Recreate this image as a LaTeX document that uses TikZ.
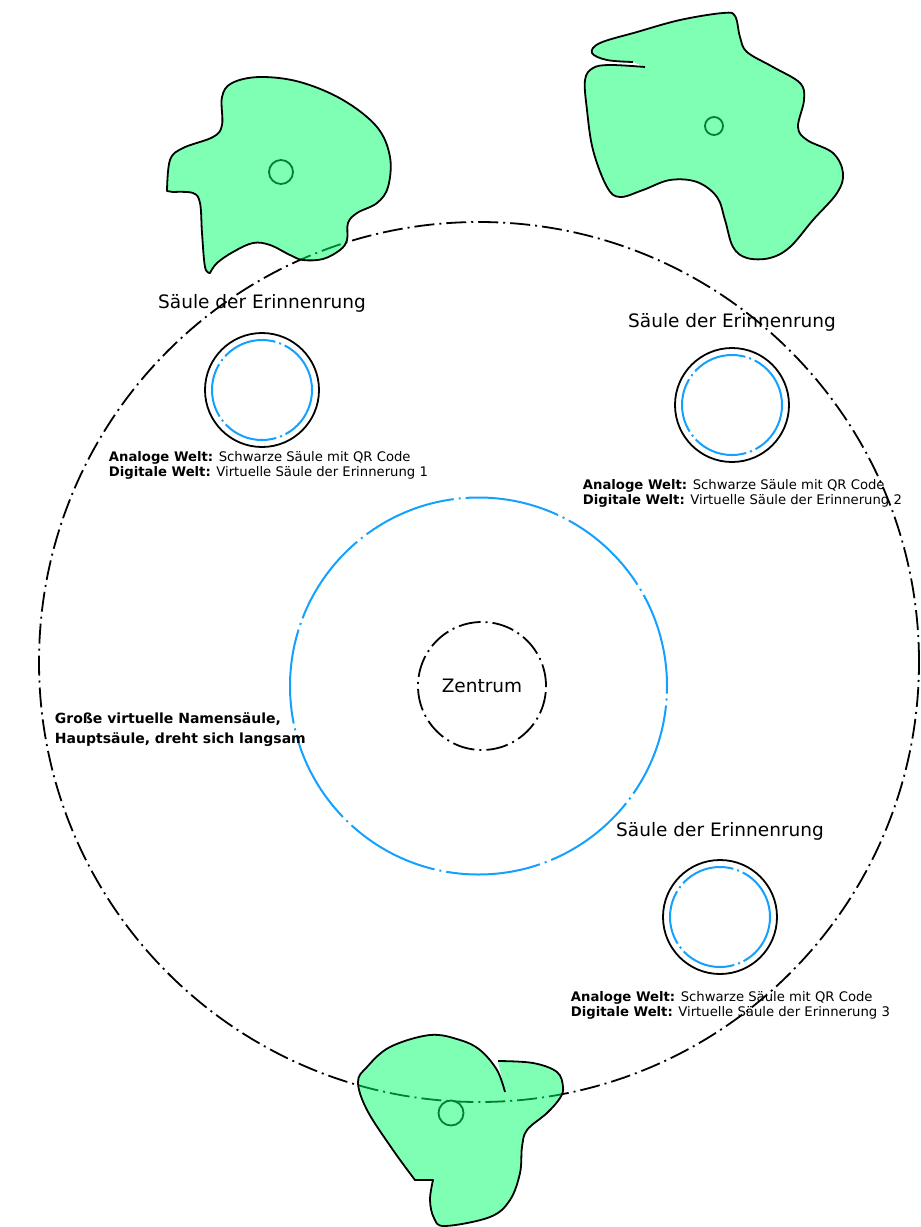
\documentclass[tikz,border=0pt]{standalone}
\usepackage{fontspec}
\setmainfont{DejaVu Sans}
\usetikzlibrary{positioning, calc}

\definecolor{saeulenblau}{RGB}{20,160,255}
\definecolor{inselgruen}{RGB}{0,255,104}

\tikzset{
  ring/.style = {draw, circle, inner sep=0pt, dash pattern=on 20pt off 5pt on 2pt off 5pt},
  blauring/.style = {draw=saeulenblau, circle, inner sep=0pt, line width=2pt},
  saeule/.style = {draw, circle, inner sep=0pt, minimum size=114pt},
  insel/.style = {draw, fill=inselgruen, fill opacity=0.5, line join=round},
  titel/.style = {font=\fontsize{18.5}{22}\selectfont},
  info/.style = {font=\fontsize{13.2}{15}\selectfont, align=left, anchor=west, inner sep=0pt}
}

\begin{document}
\begin{tikzpicture} [x=1pt, y=-1pt, line width=1.8pt, node distance=86pt]

\useasboundingbox (0,0) rectangle (921,1227);

% Mittelpunkte der Inseln
\node [draw, circle, inner sep=0pt, minimum size=24pt] (m1) at (281,172) {};
\node [draw, circle, inner sep=0pt, minimum size=18pt] (m2) at (714,126) {};
\node [draw, circle, inner sep=0pt, minimum size=25pt] (m3) at (451,1113) {};

% Kreise
\node [ring, minimum size=880pt] (welt) at (479,662) {};
\node [blauring, minimum size=377pt, dash pattern=on 95pt off 5pt on 2pt off 5pt] (rund) at (478.5,686) {};
\node [ring, minimum size=128pt, titel, dash pattern=on 22pt off 5pt on 2pt off 5pt] (zentrum) at (482,686) {Zentrum};

% Saeulen der Erinnerung
\node [saeule] (s1) at (262,390) {};
\node [saeule] (s2) at (732,405) {};
\node [saeule] (s3) at (720,917) {};
\foreach \s in {s1, s2, s3}
  \node [blauring, minimum size=100pt, dash pattern=on 55pt off 4pt on 2pt off 4pt] (\s b) at (\s) {};

\node [titel, above of = s1, node distance=87pt] (t1) {Säule der Erinnenrung};
\node [titel, above of = s2, node distance=83pt] (t2) {Säule der Erinnenrung};
\node [titel, above of = s3] (t3) {Säule der Erinnenrung};

\node [info] (i1) at (108,465.5) {\textbf{Analoge Welt:} Schwarze Säule mit QR Code\\\textbf{Digitale Welt:} Virtuelle Säule der Erinnerung 1};
\node [info] (i2) at (582,493) {\textbf{Analoge Welt:} Schwarze Säule mit QR Code\\\textbf{Digitale Welt:} Virtuelle Säule der Erinnerung 2};
\node [info] (i3) at (570,1005) {\textbf{Analoge Welt:} Schwarze Säule mit QR Code\\\textbf{Digitale Welt:} Virtuelle Säule der Erinnerung 3};

\node [info, font=\fontsize{14}{20}\selectfont\bfseries] (haupt) at (54,730) {Große virtuelle Namensäule,\\Hauptsäule, dreht sich langsam};

% Inseln
\filldraw [insel] plot [smooth, tension=0.6] coordinates {(167,191) (170,160) (183,148) (213,137) (222,125) (222,97) (232,83) (260,77) (300,82) (343,100) (377,127) (390,157) (388,187) (377,203) (357,213) (348,223) (347,240) (340,250) (323,259) (303,260) (290,255) (270,245) (253,243) (233,252) (217,263) (210,273)}
  -- plot [smooth, tension=0.6] coordinates {(210,273) (205,267) (202,233) (200,203) (193,193) (173,192)} -- cycle;

\filldraw [insel] plot [smooth, tension=0.6] coordinates {(633,62) (607,60) (592,53) (600,43) (637,32) (680,20) (723,13) (735,16) (740,37) (747,52) (773,67) (800,83) (804,100) (798,127) (807,140) (833,153) (843,173) (837,193) (813,220) (790,247) (770,258) (747,258) (733,247) (725,220) (717,197) (697,182) (670,180) (643,190) (620,197) (607,187) (593,150) (587,110) (585,80) (593,68) (610,65) (645,67)};

\filldraw [insel] plot [smooth, tension=0.6] coordinates {(498,1061) (533,1063) (557,1072) (563,1087) (560,1098) (547,1113) (527,1130) (522,1147) (520,1173) (510,1200) (490,1217) (445,1226) (434,1218) (430,1200) (433,1180)}
  -- plot [smooth, tension=0.6] coordinates {(415,1180) (393,1150) (367,1110) (358,1082) (367,1067) (390,1047) (430,1035) (460,1040) (480,1050) (497,1070) (505,1092)};

\end{tikzpicture}
\end{document}
